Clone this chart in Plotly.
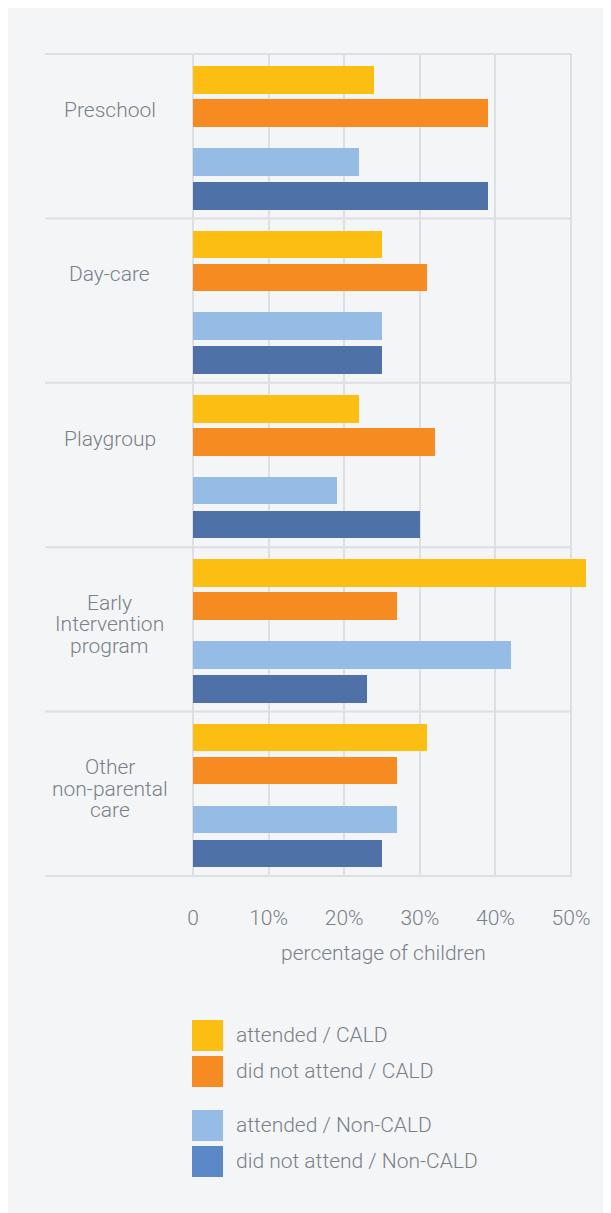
import plotly.graph_objs as go

categories = ["Preschool", "Day-care", "Playgroup", "Early<br>Intervention<br>program", "Other<br>non-parental<br>care"]
series_names = ["attended / CALD", "did not attend / CALD", "attended / Non-CALD", "did not attend / Non-CALD"]
attended_cald = [24, 25, 22, 52, 31]
not_attended_cald = [39, 31, 32, 27, 27]
attended_noncald = [22, 25, 19, 42, 27]
not_attended_noncald = [39, 25, 30, 23, 25]
tick_values = [0, 10, 20, 30, 40, 50]
tick_labels = ["0", "10%", "20%", "30%", "40%", "50%"]
axis_title = "percentage of children"

# styling
bar_colors = ["#FCBE13", "#F68C21", "#94BCE4", "#4E72A7"]
legend_colors = ["#FCBE13", "#F68C21", "#94BCE4", "#5B88C6"]
panel_bg = "#F4F5F7"
grid_col = "#DDDFE2"
text_col = "#7A8088"
font_family = "Roboto, 'Liberation Sans', Arial, sans-serif"
FS = 21

# pixel layout (page body has an 8px margin, screen coords below are shifted by it)
OFF = 8
W, H = 611 - OFF, 1213 - OFF
ML, MR, MT = 45 - OFF, 9, 54 - OFF
PLOT_W = W - ML - MR
PLOT_H = 822
MB = H - MT - PLOT_H

def px_x(p):
    return (p - OFF - ML) / PLOT_W

def px_y(p):
    return (MT + PLOT_H - (p - OFF)) / PLOT_H

bar_w = 0.168
offsets = [-0.342, -0.141, 0.156, 0.363]
series = [attended_cald, not_attended_cald, attended_noncald, not_attended_noncald]
ypos = list(range(len(categories)))

fig = go.Figure()
for name, vals, col, off in zip(series_names, series, bar_colors, offsets):
    fig.add_trace(go.Bar(
        y=ypos, x=vals, orientation="h", name=name,
        marker=dict(color=col, line=dict(width=0)),
        width=bar_w, offset=off - bar_w / 2,
        showlegend=False, cliponaxis=False,
    ))

shapes = []
# group separators
for k in range(len(categories) + 1):
    shapes.append(dict(type="line", xref="paper", yref="paper",
                       x0=px_x(45), x1=px_x(572), y0=1 - k / len(categories), y1=1 - k / len(categories),
                       line=dict(color=grid_col, width=2), layer="below"))

annotations = []
# category labels (split lines for tight leading)
for i, cat in enumerate(categories):
    for k, line in enumerate(cat.split("<br>")):
        annotations.append(dict(x=-11, y=i, xref="x", yref="y", text=line, showarrow=False,
                                xanchor="center", yanchor="middle", yshift=26.5 - 21.5 * k,
                                font=dict(size=FS, color=text_col, family=font_family, weight=300)))

annotations.append(dict(x=px_x(383), y=px_y(953), xref="paper", yref="paper", text=axis_title,
                        showarrow=False, xanchor="center", yanchor="middle",
                        font=dict(size=FS, color=text_col, family=font_family, weight=300)))

# legend
leg_y = [1035, 1071, 1125, 1161]
for name, col, yc in zip(series_names, legend_colors, leg_y):
    shapes.append(dict(type="rect", xref="paper", yref="paper",
                       x0=px_x(192), x1=px_x(223), y0=px_y(yc + 16), y1=px_y(yc - 15),
                       fillcolor=col, line=dict(width=0)))
    annotations.append(dict(x=px_x(234), y=px_y(yc), xref="paper", yref="paper", text=name,
                            showarrow=False, xanchor="left", yanchor="middle",
                            font=dict(size=FS, color=text_col, family=font_family, weight=300)))

fig.update_layout(
    width=W, height=H,
    margin=dict(l=ML, r=MR, t=MT, b=MB, pad=0),
    paper_bgcolor=panel_bg, plot_bgcolor=panel_bg,
    bargap=0, shapes=shapes, annotations=annotations,
    font=dict(family=font_family, color=text_col, size=FS),
)
fig.update_xaxes(range=[(45 - 193) / 7.56, (602 - 193) / 7.56], tickvals=tick_values, ticktext=tick_labels,
                 showgrid=True, gridcolor=grid_col, gridwidth=2, zeroline=False, showline=False,
                 ticks="outside", ticklen=23, tickcolor="rgba(0,0,0,0)",
                 tickfont=dict(size=FS, color=text_col, family=font_family, weight=300), fixedrange=True)
fig.update_yaxes(range=[4.5, -0.5], showgrid=False, zeroline=False, showticklabels=False,
                 showline=False, fixedrange=True)

fig.write_html("out.html")
